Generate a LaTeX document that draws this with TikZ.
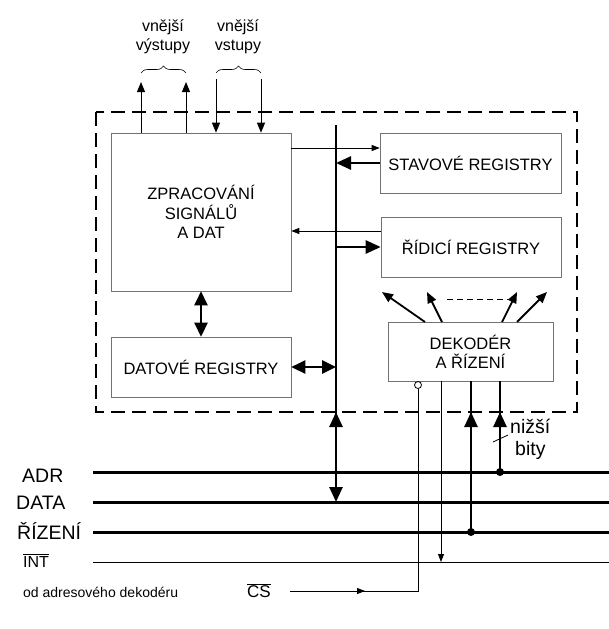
\documentclass[tikz,border=0pt]{standalone}
\usepackage{fontspec}
\setmainfont{Liberation Sans}
\usetikzlibrary{arrows.meta,decorations.pathreplacing}
\begin{document}
\begin{tikzpicture}[x=1pt,y=-1pt,
  box/.style={draw=black!55, line width=0.6pt, rectangle, inner sep=0pt, align=center,
    font=\fontsize{16.5}{19.5}\selectfont},
  lbl/.style={inner sep=0pt, font=\fontsize{19.5}{22}\selectfont},
  slbl/.style={inner sep=0pt, font=\fontsize{16}{19.5}\selectfont},
  busline/.style={line width=3pt},
  thinline/.style={line width=0.8pt},
  thinarrow/.style={line width=0.8pt, -{Triangle[length=8pt,width=6pt]}},
  iotarrow/.style={line width=1pt, -{Triangle[length=10pt,width=8pt]}},
  thickarrow/.style={line width=2.6pt, -{Triangle[length=15pt,width=13pt]}},
  thickdouble/.style={line width=2.6pt, {Triangle[length=14pt,width=13pt]}-{Triangle[length=14pt,width=13pt]}},
  decarrow/.style={line width=1.8pt, -{Triangle[length=11pt,width=9pt]}},
  bracestyle/.style={decorate, decoration={brace, amplitude=7pt}, line width=0.6pt}
]
\useasboundingbox (0,0) rectangle (609,629);

% outer dashed frame
\draw[line width=2.3pt, dash pattern=on 14pt off 7pt] (96,112) rectangle (577,412);

% boxes
\node[box, minimum width=180pt, minimum height=158pt] (zpr) at (201,212) {ZPRACOVÁNÍ\\SIGNÁLŮ\\A DAT};
\node[box, minimum width=180pt, minimum height=60pt] (dat) at (201,367) {DATOVÉ REGISTRY};
\node[box, minimum width=181pt, minimum height=60pt] (stav) at (470.5,163) {STAVOVÉ REGISTRY};
\node[box, minimum width=180pt, minimum height=60pt] (rid) at (471,247) {ŘÍDICÍ REGISTRY};
\node[box, minimum width=165pt, minimum height=59pt, font=\fontsize{16.5}{19}\selectfont] (dek) at (470.5,351.5) {DEKODÉR\\A ŘÍZENÍ};

% top labels and braces
\node[slbl, align=center] (vyst) at (163,37) {vnější\\výstupy};
\node[slbl, align=center] (vst) at (238,37) {vnější\\vstupy};
\coordinate (b1l) at (141,73);
\coordinate (b1r) at (186,73);
\coordinate (b2l) at (216,73);
\coordinate (b2r) at (261,73);
\draw[bracestyle] (b1l) -- (b1r);
\draw[bracestyle] (b2l) -- (b2r);

% external outputs / inputs
\coordinate (o1) at (141,82);
\coordinate (o2) at (186,82);
\coordinate (i1) at (216,79);
\coordinate (i2) at (261,79);
\draw[iotarrow] (zpr.north -| o1) -- (o1);
\draw[iotarrow] (zpr.north -| o2) -- (o2);
\draw[iotarrow] (i1) -- (zpr.north -| i1);
\draw[iotarrow] (i2) -- (zpr.north -| i2);

% internal bus
\coordinate (bustop) at (336,125);
\coordinate (busbot) at (336,502);
\coordinate (busup) at (336,440);
\coordinate (busuptip) at (336,412);
\draw[thickarrow] (bustop) -- (busbot);
\draw[thickarrow] (busup) -- (busuptip);

% links between zpr and registers
\coordinate (y148) at (0,148);
\coordinate (y231) at (0,231);
\draw[thinarrow] (zpr.east |- y148) -- (stav.west |- y148);
\draw[thinarrow] (rid.west |- y231) -- (zpr.east |- y231);
\draw[thickarrow] (stav.west) -- (stav.west -| bustop);
\draw[thickarrow] (rid.west -| bustop) -- (rid.west);
\draw[thickdouble] (zpr.south) -- (dat.north);
\draw[thickdouble] (dat.east) -- (dat.east -| bustop);

% decoder to control registers
\coordinate (d1s) at (425,322); \coordinate (d1e) at (382,292);
\coordinate (d2s) at (442,322); \coordinate (d2e) at (427,292);
\coordinate (d3s) at (502,322); \coordinate (d3e) at (517,292);
\coordinate (d4s) at (517,322); \coordinate (d4e) at (547,292);
\draw[decarrow] (d1s) -- (d1e);
\draw[decarrow] (d2s) -- (d2e);
\draw[decarrow] (d3s) -- (d3e);
\draw[decarrow] (d4s) -- (d4e);
\coordinate (dl) at (447,299); \coordinate (dr) at (508,299);
\draw[line width=1pt, dash pattern=on 6pt off 4pt] (dl) -- (dr);

% system bus lines
\coordinate (adrL) at (93,472);  \coordinate (adrR) at (609,472);
\coordinate (datL) at (93,502);  \coordinate (datR) at (609,502);
\coordinate (rizL) at (93,532);  \coordinate (rizR) at (609,532);
\coordinate (intL) at (93,562);  \coordinate (intR) at (609,562);
\draw[busline] (adrL) -- (adrR);
\draw[busline] (datL) -- (datR);
\draw[busline] (rizL) -- (rizR);
\draw[thinline] (intL) -- (intR);

\node[lbl, anchor=base west] (tadr) at (22,482) {ADR};
\node[lbl, anchor=base west] (tdat) at (16,509) {DATA};
\node[lbl, anchor=base west] (triz) at (17,539) {ŘÍZENÍ};
\node[slbl, anchor=base west] (tint) at (23,567) {$\overline{\mbox{INT}}$};
\node[inner sep=0pt, anchor=base west, font=\fontsize{14}{16}\selectfont] (tod) at (23,597) {od adresového dekodéru};
\node[inner sep=0pt, anchor=base west, font=\fontsize{17}{19}\selectfont] (tcs) at (247,597) {$\overline{\mbox{CS}}$};

% decoder connections
\node[draw, circle, line width=0.8pt, inner sep=0pt, minimum size=7pt] (cir) at (418,385) {};
\coordinate (csS) at (290,591);
\coordinate (csA) at (365,591);
\coordinate (csC) at (418,591);
\draw[thinline] (csS) -- (csC) -- (cir.south);
\draw[thinarrow] (csS) -- (csA);
\coordinate (intx) at (441,562);
\draw[thinarrow] (dek.south -| intx) -- (intx);
\coordinate (rizx) at (471,532);
\coordinate (rizA) at (471,412);
\draw[line width=2.6pt] (rizx) -- (dek.south -| rizx);
\draw[thickarrow] (rizx) -- (rizA);
\coordinate (adrx) at (500,472);
\coordinate (adrA) at (500,412);
\draw[line width=2.6pt] (adrx) -- (dek.south -| adrx);
\draw[thickarrow] (adrx) -- (adrA);
\fill (rizx) circle (4pt);
\fill (adrx) circle (4pt);

% lower bits
\coordinate (sl1) at (493,442); \coordinate (sl2) at (508,435);
\draw[thinline] (sl1) -- (sl2);
\node[lbl, anchor=base west] (tniz) at (510,433) {nižší};
\node[lbl, anchor=base west] (tbit) at (515,455) {bity};
\end{tikzpicture}
\end{document}
